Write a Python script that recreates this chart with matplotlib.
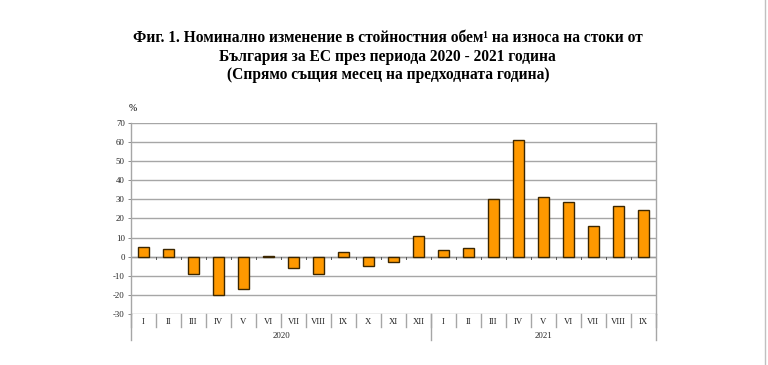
import matplotlib
matplotlib.use("Agg")
import matplotlib.pyplot as plt
import matplotlib.transforms as mtransforms
from matplotlib.lines import Line2D
import numpy as np

plt.rcParams["font.family"] = ["Liberation Serif", "DejaVu Serif"]

MONTHS = ["I", "II", "III", "IV", "V", "VI", "VII", "VIII", "IX", "X", "XI", "XII",
          "I", "II", "III", "IV", "V", "VI", "VII", "VIII", "IX"]
YEARS = ["2020", "2021"]
YEAR_COUNTS = [12, 9]
VALUES = [4.9, 4.2, -9.0, -19.8, -16.9, 0.3, -5.7, -8.9, 2.4, -4.9, -2.8, 10.6,
          3.3, 4.5, 30.1, 61.2, 31.3, 28.5, 16.2, 26.6, 24.3]
YTICKS = list(range(-30, 71, 10))

TITLE = ("Фиг. 1. Номинално изменение в стойностния обем¹ на износа на стоки от\n"
         "България за ЕС през периода 2020 - 2021 година\n"
         "(Спрямо същия месец на предходната година)")

GRID_C = "#a6a6a6"
BAR_C = "#ff9900"
EDGE_C = "#3b2600"

fig = plt.figure(figsize=(7.68, 3.65), dpi=100)
ax = fig.add_axes([0.1706, 0.139, 0.6834, 0.525])

x = np.arange(len(VALUES))
ax.bar(x, VALUES, width=0.42, color=BAR_C, edgecolor=EDGE_C, linewidth=1.0, zorder=3)

ax.set_xlim(-0.5, len(VALUES) - 0.5)
ax.set_ylim(-30, 70)
ax.set_yticks(YTICKS)
ax.set_yticklabels([str(t) for t in YTICKS], fontsize=6.3)
ax.tick_params(axis="y", length=2.5, width=0.6, color="#777777", pad=2, labelcolor="#222222")
for t in YTICKS:
    ax.axhline(t, color=GRID_C, lw=1.0, zorder=1)

for side in ["top", "bottom"]:
    ax.spines[side].set_visible(False)
for side in ["left", "right"]:
    ax.spines[side].set_color(GRID_C)
    ax.spines[side].set_linewidth(1.0)

# zero axis with small ticks between categories
ax.set_xticks([])
ax.axhline(0, color="#9a9a9a", lw=1.0, zorder=2)
for b in np.arange(-0.5, len(VALUES), 1.0)[1:-1]:
    ax.plot([b, b], [0, -1.2], color="#555555", lw=0.7, zorder=2)

# category labels below plot
trans = mtransforms.blended_transform_factory(ax.transData, ax.transAxes)
for i, m in enumerate(MONTHS):
    ax.text(i, -0.04, m, transform=trans, ha="center", va="center", fontsize=6.3, color="#222222")
for b in np.arange(-0.5, len(VALUES), 1.0):
    ax.plot([b, b], [0, -0.068], transform=trans, color=GRID_C, lw=1.0, clip_on=False)
start = -0.5
for yr, n in zip(YEARS, YEAR_COUNTS):
    ax.plot([start, start], [0, -0.135], transform=trans, color=GRID_C, lw=1.0, clip_on=False)
    ax.text(start + n / 2, -0.115, yr, transform=trans, ha="center", va="center",
            fontsize=6.3, color="#222222")
    start += n
ax.plot([start, start], [0, -0.135], transform=trans, color=GRID_C, lw=1.0, clip_on=False)

ax.text(0.004, 1.075, "%", transform=ax.transAxes, ha="center", va="center", fontsize=7)

fig.text(0.505, 0.845, TITLE, ha="center", va="center", fontsize=11.2,
         fontweight="bold", linespacing=1.2)

fig.add_artist(Line2D([0.996, 0.996], [0, 1], color="#c0c0c0", lw=1.0))

fig.savefig("out.png", dpi=100)
